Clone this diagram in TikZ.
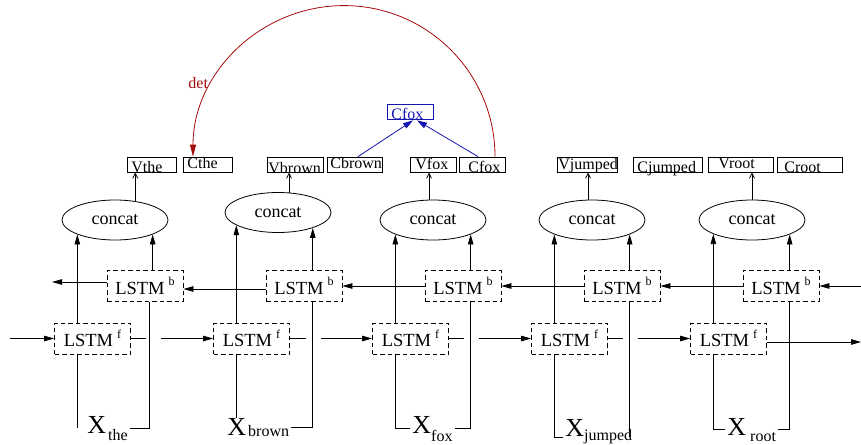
\documentclass[tikz,border=0pt]{standalone}
\usepackage{fontspec}
\setmainfont{Liberation Serif}
\usetikzlibrary{arrows.meta,shapes.geometric}
\definecolor{arcred}{RGB}{165,10,10}
\definecolor{depblue}{RGB}{20,20,175}
\newcommand{\lstmtag}[1]{LSTM\hspace{4pt}\raisebox{8.5pt}{\fontsize{12}{12}\selectfont #1}}
\newcommand{\xword}[3]{X\hspace{#3}\raisebox{#2}{\fontsize{16}{16}\selectfont #1}}

\begin{document}
\begin{tikzpicture}[x=1pt,y=-1pt,line width=0.8pt,
  lstm/.style={draw,dash pattern=on 4.5pt off 3pt,minimum width=76pt,minimum height=31pt,
    inner sep=0pt,font=\fontsize{18.5}{18.5}\selectfont},
  concat/.style={draw,ellipse,minimum width=106pt,minimum height=40pt,inner sep=0pt,
    font=\fontsize{18}{18}\selectfont},
  wbox/.style={draw,rectangle,inner sep=0pt,minimum height=15pt},
  wtext/.style={anchor=base west,inner sep=0pt,font=\fontsize{16}{16}\selectfont},
  xlab/.style={anchor=base west,inner ysep=0pt,inner xsep=2pt,font=\fontsize{26}{26}\selectfont},
  arr/.style={-{Triangle[length=10pt,width=5.5pt]}},
  varr/.style={-{Straight Barb[length=5pt,width=5pt]}},
  barr/.style={depblue,-{Triangle[length=10pt,width=6pt]}},
  redarr/.style={arcred,-{Triangle[length=12pt,width=6pt]}}]
\useasboundingbox (0,0) rectangle (861,444);

% ---- concat ellipses ----
\node[concat] (con1) at (115,220) {concat};
\node[concat] (con2) at (278,212.5) {concat};
\node[concat] (con3) at (433,220) {concat};
\node[concat] (con4) at (592,220) {concat};
\node[concat] (con5) at (752,220) {concat};

% ---- backward and forward LSTM cells ----
\node[lstm] (b1) at (145,286) {\lstmtag{b}};
\node[lstm] (b2) at (304,286) {\lstmtag{b}};
\node[lstm] (b3) at (463,286) {\lstmtag{b}};
\node[lstm] (b4) at (622,286) {\lstmtag{b}};
\node[lstm] (b5) at (781,286) {\lstmtag{b}};
\node[lstm] (f1) at (92.5,338.5) {\lstmtag{f}};
\node[lstm] (f2) at (251.5,338.5) {\lstmtag{f}};
\node[lstm] (f3) at (410.5,338.5) {\lstmtag{f}};
\node[lstm] (f4) at (569.5,338.5) {\lstmtag{f}};
\node[lstm] (f5) at (728.5,338.5) {\lstmtag{f}};

% ---- word vectors ----
\node[xlab] (xthe) at (85,433) {\xword{the}{-7.5pt}{2pt}};
\node[xlab] (xbrown) at (225,435) {\xword{brown}{-1pt}{2pt}};
\node[xlab] (xfox) at (410,433) {\xword{fox}{-8.5pt}{0pt}};
\node[xlab] (xjumped) at (563,436) {\xword{jumped}{-4.5pt}{0pt}};
\node[xlab] (xroot) at (725,435) {\xword{root}{-6.5pt}{4pt}};

% ---- output boxes ----
\node[wbox,minimum width=49pt] (vthe) at (151.5,164.5) {};
\node[wbox,minimum width=49pt] (cthe) at (207.5,164.5) {};
\node[wbox,minimum width=56pt] (vbrown) at (295,164.5) {};
\node[wbox,minimum width=55pt] (cbrown) at (354.5,164.5) {};
\node[wbox,minimum width=46pt] (vfox) at (433,164.5) {};
\node[wbox,minimum width=46pt] (cfox) at (482,164.5) {};
\node[wbox,minimum width=60pt] (vjumped) at (587,164.5) {};
\node[wbox,minimum width=69pt] (cjumped) at (667.5,164.5) {};
\node[wbox,minimum width=65pt] (vroot) at (740.5,164.5) {};
\node[wbox,minimum width=65pt] (croot) at (809.5,164.5) {};
\node[wbox,draw=depblue,minimum width=46pt] (cfoxtop) at (410,111.5) {};

\node[wtext] (vthe-t) at (131,172) {Vthe};
\node[wtext] (cthe-t) at (187,168) {Cthe};
\node[wtext] (vbrown-t) at (268,173) {Vbrown};
\node[wtext] (cbrown-t) at (330,168) {Cbrown};
\node[wtext] (vfox-t) at (415,169) {Vfox};
\node[wtext] (cfox-t) at (468,172) {Cfox};
\node[wtext] (vjumped-t) at (558,169) {Vjumped};
\node[wtext] (cjumped-t) at (637,172) {Cjumped};
\node[wtext] (vroot-t) at (718,168) {Vroot};
\node[wtext] (croot-t) at (784,172) {Croot};
\node[wtext,text=depblue] (cfoxtop-t) at (391,119) {Cfox};

% ---- concat -> vector boxes ----
\draw[varr] (con1.43) -- (con1.43 |- vthe.south);
\draw[varr] (con2.61) -- (con2.61 |- vbrown.south);
\draw[varr] (con3.101) -- (con3.101 |- vfox.south);
\draw[varr] (con4.101) -- (con4.101 |- vjumped.south);
\draw[varr] (con5.90) -- (con5.90 |- vroot.south);

% ---- LSTM outputs into concat ----
\draw[arr] (con1.201 |- f1.north) -- (con1.201);
\draw[arr] (con1.339 |- b1.north) -- (con1.339);
\draw[arr] (con2.197 |- f2.north) -- (con2.197);
\draw[arr] (con2.336 |- b2.north) -- (con2.336);
\draw[arr] (con3.201 |- f3.north) -- (con3.201);
\draw[arr] (con3.339 |- b3.north) -- (con3.339);
\draw[arr] (con4.201 |- f4.north) -- (con4.201);
\draw[arr] (con4.339 |- b4.north) -- (con4.339);
\draw[arr] (con5.200 |- f5.north) -- (con5.200);
\draw[arr] (con5.339 |- b5.north) -- (con5.339);

% ---- word inputs ----
\draw (con1.201 |- f1.south) -- ++(0,74) coordinate (xthe-stub);
\coordinate (b1-down) at ([xshift=-3pt]con1.339);
\draw (b1-down |- b1.south) |- (xthe.east);
\draw (con2.197 |- f2.south) -- (con2.197 |- xbrown.north);
\draw (con2.336 |- b2.south) |- (xbrown.east);
\draw (con3.201 |- f3.south) |- (xfox.west);
\draw (con3.339 |- b3.south) |- (xfox.east);
\coordinate (xj-low) at ([yshift=-6pt]xjumped.west);
\draw (con4.201 |- f4.south) |- (xj-low);
\draw (con4.339 |- b4.south) -- (con4.339 |- xj-low);
\draw (con5.200 |- f5.south) |- (xroot.west);
\draw (con5.339 |- b5.south) |- (xroot.east);

% ---- backward chain ----
\coordinate (b-in) at (861,286);
\coordinate (b-out) at (52,282);
\draw[arr] (b-in) -- (b5.east);
\draw[arr] (b5.west) -- (b4.east);
\draw[arr] (b4.west) -- (b3.east);
\draw[arr] (b3.west) -- (b2.east);
\draw[arr] ([yshift=-3pt]b2.west) -- ([yshift=-3pt]b1.east);
\draw[arr] ([yshift=4pt]b1.west) -- (b-out);

% ---- forward chain (line jumps where it crosses the backward inputs) ----
\coordinate (f-in) at (10,338.5);
\coordinate (f-out) at (861,342);
\draw[arr] (f-in) -- (f1.west);
\coordinate (j1) at (con1.339 |- f1.east);
\coordinate (j2) at (con2.336 |- f2.east);
\coordinate (j3) at (con3.339 |- f3.east);
\coordinate (j4) at (con4.339 |- f4.east);
\draw (f1.east) -- ([xshift=-7pt]j1);
\draw[arr] ([xshift=8pt]j1) -- (f2.west);
\draw (f2.east) -- ([xshift=-7pt]j2);
\draw[arr] ([xshift=8pt]j2) -- (f3.west);
\draw (f3.east) -- ([xshift=-7pt]j3);
\draw[arr] ([xshift=8pt]j3) -- (f4.west);
\draw (f4.east) -- ([xshift=-7pt]j4);
\draw[arr] ([xshift=8pt]j4) -- (f5.west);
\draw[arr] ([yshift=-3.5pt]f5.east) -- (f-out);

% ---- composition of the head ----
\draw[barr] ([xshift=3.5pt]cbrown.north) -- ([xshift=3pt,yshift=-1pt]cfoxtop.south);
\draw[barr] ([xshift=-4pt]cfox.north) -- ([xshift=7pt,yshift=-1pt]cfoxtop.south);

% ---- dependency arc ----
\draw[redarr] ([xshift=13pt]cfox.north) arc[start angle=0,end angle=-180,radius=151];
\node[wtext,text=arcred] (det) at (188,88) {det};
\end{tikzpicture}
\end{document}
